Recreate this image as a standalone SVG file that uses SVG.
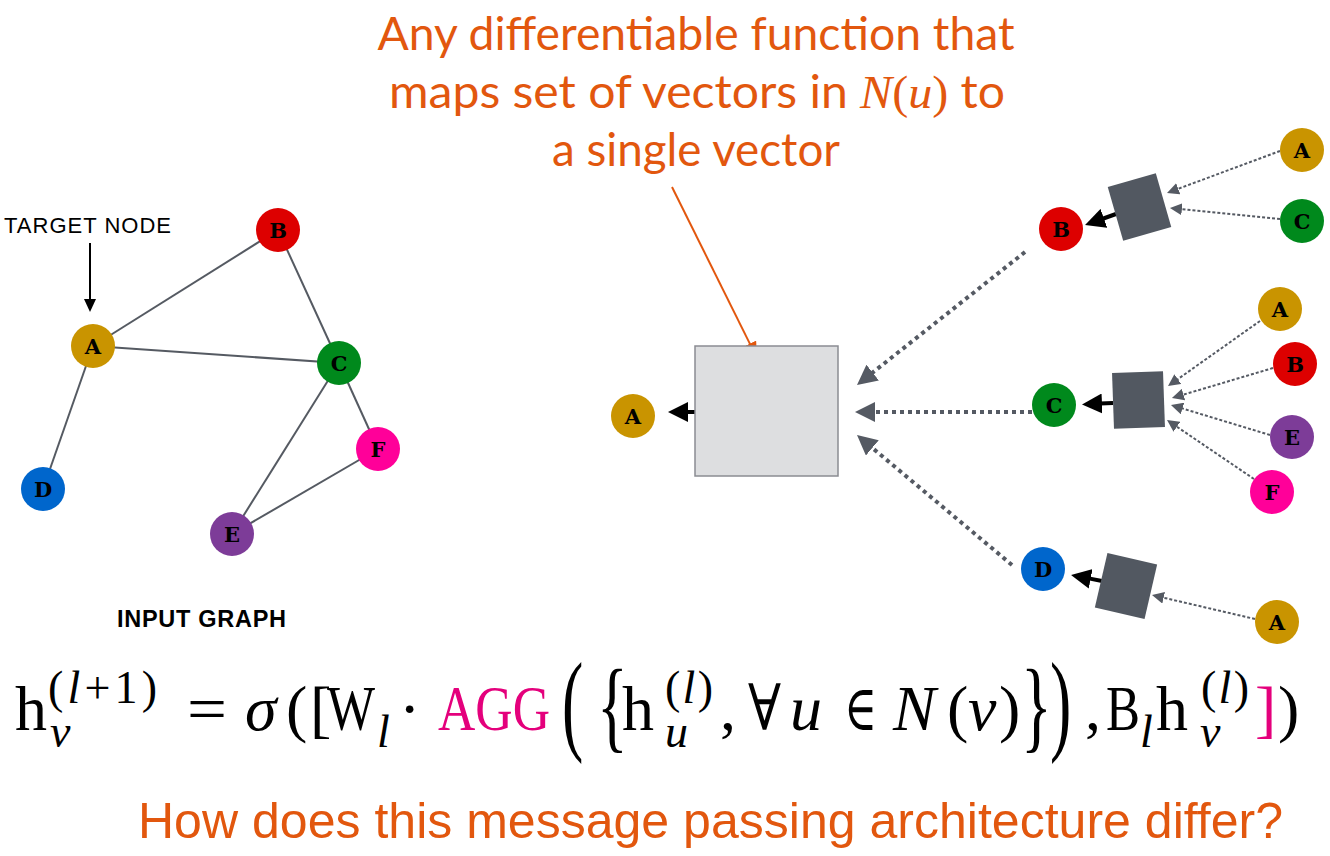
<svg xmlns="http://www.w3.org/2000/svg" width="1330" height="856" viewBox="0 0 1330 856">
<style>
.edge{stroke:#555a62;stroke-width:2;fill:none}
.nl{font-family:'DejaVu Serif','Liberation Serif',serif;font-weight:bold;font-size:21px;text-anchor:middle;fill:#000}
.bigdot{stroke:#555a63;stroke-width:4;stroke-dasharray:4 4;fill:none}
.smalldot{stroke:#555a63;stroke-width:2;stroke-dasharray:3 2;fill:none}
.blk{stroke:#000;stroke-width:4;fill:none}
.agg{fill:#525861}
.f{font-family:'Liberation Serif','DejaVu Serif',serif;font-size:64px;fill:#000}
.s{font-size:46px}
.i{font-style:italic}
.mg{fill:#e4007c}
.or{font-family:Lato,'Open Sans',sans-serif;font-size:46px;fill:#e2570e;text-anchor:middle}
</style>
<defs>
<marker id="mBig" markerUnits="userSpaceOnUse" markerWidth="20" markerHeight="20" refX="2" refY="10" orient="auto"><path d="M0,0 L20,10 L0,20 z" fill="#555a63"/></marker>
<marker id="mSmall" markerUnits="userSpaceOnUse" markerWidth="12" markerHeight="12" refX="1" refY="6" orient="auto"><path d="M0,0 L12,6 L0,12 z" fill="#555a63"/></marker>
<marker id="mBlk" markerUnits="userSpaceOnUse" markerWidth="20" markerHeight="20" refX="2" refY="10" orient="auto"><path d="M0,0 L20,10 L0,20 z" fill="#000"/></marker>
<marker id="mBlkS" markerUnits="userSpaceOnUse" markerWidth="13" markerHeight="12" refX="1" refY="6" orient="auto"><path d="M0,0 L13,6 L0,12 z" fill="#000"/></marker>
<marker id="mOr" markerUnits="userSpaceOnUse" markerWidth="16" markerHeight="14" refX="1" refY="7" orient="auto"><path d="M0,0 L16,7 L0,14 z" fill="#e2570e"/></marker>
</defs>
<rect width="1330" height="856" fill="#fff"/>

<!-- top caption -->
<g id="caption">
<text class="or" x="696" y="50" textLength="637" lengthAdjust="spacingAndGlyphs">Any differentiable function that</text>
<text class="or" x="697" y="108" textLength="616" lengthAdjust="spacingAndGlyphs">maps set of vectors in <tspan font-family="Liberation Serif" font-style="italic">N</tspan><tspan font-family="Liberation Serif">(</tspan><tspan font-family="Liberation Serif" font-style="italic">u</tspan><tspan font-family="Liberation Serif">)</tspan> to</text>
<text class="or" x="696" y="166" textLength="288" lengthAdjust="spacingAndGlyphs">a single vector</text>
</g>

<!-- left graph edges -->
<g id="graph-edges">
<line class="edge" x1="93" y1="346" x2="278" y2="230"/>
<line class="edge" x1="93" y1="346" x2="339" y2="363"/>
<line class="edge" x1="278" y1="230" x2="339" y2="363"/>
<line class="edge" x1="93" y1="346" x2="43" y2="489"/>
<line class="edge" x1="339" y1="363" x2="232" y2="534"/>
<line class="edge" x1="339" y1="363" x2="378" y2="449"/>
<line class="edge" x1="232" y1="534" x2="378" y2="449"/>
</g>

<g id="target-label">
<text x="4" y="233" font-family="'Liberation Sans',Arial,sans-serif" font-size="22" textLength="167" fill="#000">TARGET NODE</text>
<line x1="90" y1="243" x2="90" y2="300" stroke="#000" stroke-width="2" marker-end="url(#mBlkS)"/>
</g>

<g id="g-A"><circle cx="93" cy="346" r="22" fill="#c99400"/><text class="nl" x="93" y="353.5">A</text></g>
<g id="g-B"><circle cx="278" cy="230" r="22" fill="#dd0000"/><text class="nl" x="278" y="237.5">B</text></g>
<g id="g-C"><circle cx="339" cy="363" r="22" fill="#00891c"/><text class="nl" x="339" y="370.5">C</text></g>
<g id="g-D"><circle cx="43" cy="489" r="22" fill="#0066cc"/><text class="nl" x="43" y="496.5">D</text></g>
<g id="g-E"><circle cx="232" cy="534" r="22" fill="#7d3c98"/><text class="nl" x="232" y="541.5">E</text></g>
<g id="g-F"><circle cx="378" cy="449" r="22" fill="#ff0099"/><text class="nl" x="378" y="456.5">F</text></g>

<text id="input-graph-label" x="117" y="627" font-family="'Liberation Sans',Arial,sans-serif" font-weight="bold" font-size="23.5" textLength="169" fill="#000">INPUT GRAPH</text>

<!-- connectors on right -->
<g id="connectors">
<line x1="672" y1="187" x2="750.3" y2="344.6" stroke="#e2570e" stroke-width="2" marker-end="url(#mOr)"/>
<line class="blk" x1="695" y1="412" x2="686" y2="412" marker-end="url(#mBlk)"/>
<line class="bigdot" x1="1025" y1="252" x2="871.1" y2="373.8" marker-end="url(#mBig)"/>
<line class="bigdot" x1="1032" y1="412" x2="873" y2="412" marker-end="url(#mBig)"/>
<line class="bigdot" x1="1012" y1="565" x2="870.8" y2="446.6" marker-end="url(#mBig)"/>
<line class="blk" x1="1116" y1="214" x2="1102" y2="219" marker-end="url(#mBlk)"/>
<line class="blk" x1="1113" y1="403" x2="1100" y2="403.6" marker-end="url(#mBlk)"/>
<line class="blk" x1="1102" y1="581" x2="1088.7" y2="578.4" marker-end="url(#mBlk)"/>
<line class="smalldot" x1="1280" y1="151" x2="1177.3" y2="189.1" marker-end="url(#mSmall)"/>
<line class="smalldot" x1="1280" y1="219" x2="1180.9" y2="209.1" marker-end="url(#mSmall)"/>
<line class="smalldot" x1="1260" y1="321" x2="1177" y2="379.7" marker-end="url(#mSmall)"/>
<line class="smalldot" x1="1273" y1="368" x2="1182.5" y2="394.9" marker-end="url(#mSmall)"/>
<line class="smalldot" x1="1270" y1="435" x2="1181.5" y2="408.2" marker-end="url(#mSmall)"/>
<line class="smalldot" x1="1254" y1="479" x2="1176.1" y2="426.2" marker-end="url(#mSmall)"/>
<line class="smalldot" x1="1255" y1="619" x2="1162.7" y2="597.5" marker-end="url(#mSmall)"/>
</g>

<g id="agg-main"><rect x="695" y="346" width="143" height="130" fill="#dddee0" stroke="#8a8c92" stroke-width="1.5"/></g>
<g id="agg-B"><rect class="agg" x="-25" y="-28" width="50" height="56" transform="translate(1139.5,207) rotate(-16)"/></g>
<g id="agg-C"><rect class="agg" x="-25.5" y="-28" width="51" height="56" transform="translate(1138.5,400) rotate(-2)"/></g>
<g id="agg-D"><rect class="agg" x="-25.5" y="-28" width="51" height="56" transform="translate(1126,586) rotate(13)"/></g>

<g id="m-A"><circle cx="633" cy="416" r="22" fill="#c99400"/><text class="nl" x="633" y="423.5">A</text></g>
<g id="r-B"><circle cx="1061" cy="229" r="22" fill="#dd0000"/><text class="nl" x="1061" y="236.5">B</text></g>
<g id="r-B-A"><circle cx="1302" cy="150" r="22" fill="#c99400"/><text class="nl" x="1302" y="157.5">A</text></g>
<g id="r-B-C"><circle cx="1302" cy="221" r="22" fill="#00891c"/><text class="nl" x="1302" y="228.5">C</text></g>
<g id="r-C"><circle cx="1054" cy="405" r="22" fill="#00891c"/><text class="nl" x="1054" y="412.5">C</text></g>
<g id="r-C-A"><circle cx="1280" cy="309" r="22" fill="#c99400"/><text class="nl" x="1280" y="316.5">A</text></g>
<g id="r-C-B"><circle cx="1295" cy="364" r="22" fill="#dd0000"/><text class="nl" x="1295" y="371.5">B</text></g>
<g id="r-C-E"><circle cx="1292" cy="437" r="22" fill="#7d3c98"/><text class="nl" x="1292" y="444.5">E</text></g>
<g id="r-C-F"><circle cx="1272" cy="492" r="22" fill="#ff0099"/><text class="nl" x="1272" y="499.5">F</text></g>
<g id="r-D"><circle cx="1043" cy="569" r="22" fill="#0066cc"/><text class="nl" x="1043" y="576.5">D</text></g>
<g id="r-D-A"><circle cx="1277" cy="622" r="22" fill="#c99400"/><text class="nl" x="1277" y="629.5">A</text></g>

<!-- formula -->
<g id="formula" class="f">
<text x="15" y="730">h</text>
<text class="s" x="48" y="703" textLength="109">(<tspan class="i">l</tspan>+1)</text>
<text class="s i" x="50" y="747">v</text>
<text x="187" y="730" textLength="40" lengthAdjust="spacingAndGlyphs">=</text>
<text class="i" x="245" y="730">σ</text>
<text x="286" y="730">(</text>
<text x="310" y="730">[</text>
<text x="327" y="730" textLength="48" lengthAdjust="spacingAndGlyphs">W</text>
<text class="s i" x="377" y="747">l</text>
<text x="399" y="730">·</text>
<text class="mg" x="438" y="730" textLength="112" lengthAdjust="spacingAndGlyphs">AGG</text>
<text transform="translate(562,740) scale(1,1.75)">(</text>
<text transform="translate(597,739) scale(1,1.6)">{</text>
<text x="622" y="730">h</text>
<text class="s" x="665" y="703" textLength="48">(<tspan class="i">l</tspan>)</text>
<text class="s i" x="665" y="747">u</text>
<text x="720" y="730">,</text>
<text x="748" y="730" textLength="33" lengthAdjust="spacingAndGlyphs">∀</text>
<text class="i" x="790" y="730">u</text>
<text x="844" y="730" textLength="33" lengthAdjust="spacingAndGlyphs">∈</text>
<text class="i" x="893" y="730">N</text>
<text x="947" y="730">(</text>
<text class="i" x="968" y="730">v</text>
<text x="999" y="730">)</text>
<text transform="translate(1021,739) scale(1,1.6)">}</text>
<text transform="translate(1050,740) scale(1,1.75)">)</text>
<text x="1085" y="730">,</text>
<text x="1106" y="730" textLength="34" lengthAdjust="spacingAndGlyphs">B</text>
<text class="s i" x="1140" y="747">l</text>
<text x="1156" y="730">h</text>
<text class="s" x="1201" y="703" textLength="48">(<tspan class="i">l</tspan>)</text>
<text class="s i" x="1200" y="747">v</text>
<text class="mg" x="1255" y="730">]</text>
<text x="1278" y="730">)</text>
</g>

<text id="question" x="138" y="838" font-family="'Liberation Sans',Arial,sans-serif" font-size="50" textLength="1145" fill="#e2570e">How does this message passing architecture differ?</text>
</svg>
